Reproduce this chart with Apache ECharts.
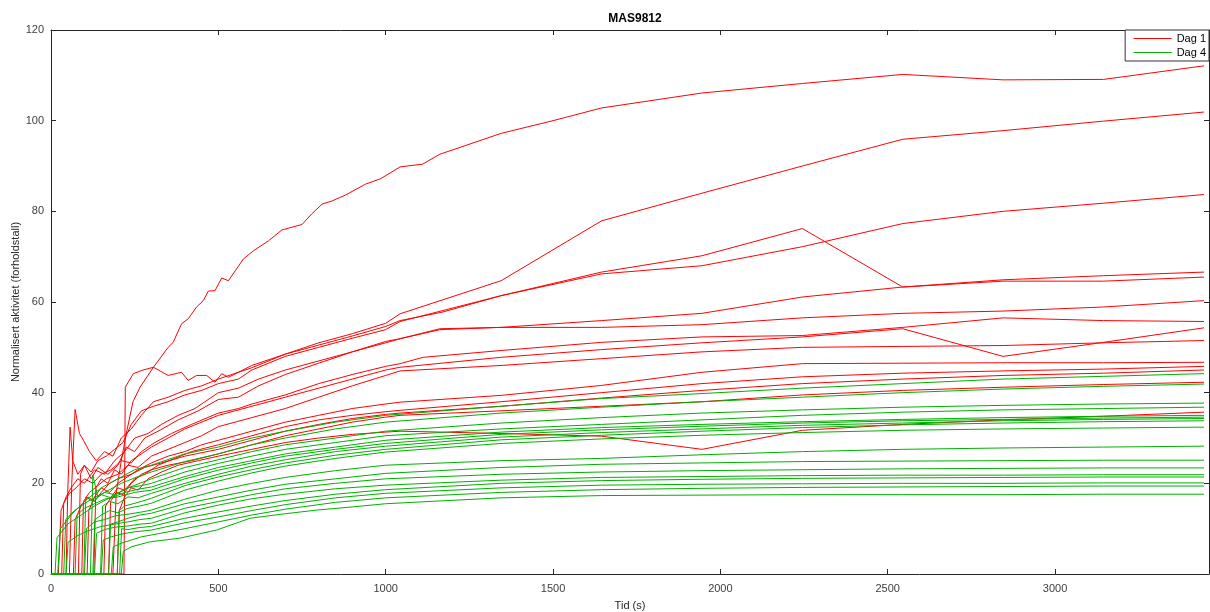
<!DOCTYPE html>
<html>
<head>
<meta charset="utf-8">
<script src="https://cdn.jsdelivr.net/npm/echarts@6/dist/echarts.min.js"></script>
<style>html,body{margin:0;padding:0;background:#fff}#c{width:1210px;height:612px}</style>
</head>
<body>
<div id="c"></div>
<script>
// ---- Data: [time (s), normalised activity] ----
const xTicks = [0, 500, 1000, 1500, 2000, 2500, 3000];
const yTicks = [0, 20, 40, 60, 80, 100, 120];

// Dag 1 (red)
const redA = [[0,0],[185,0],[195,18],[210,25],[225,31],[245,38],[266,41.2],[306,45.6],[350,50],[365,51.1],[390,55.2],[410,56.3],[435,58.9],[455,60.3],[470,62.4],[490,62.5],[510,65.3],[530,64.7],[575,69.5],[605,71.3],[650,73.5],[690,75.9],[750,77.1],[780,79.5],[810,81.6],[840,82.3],[880,83.6],[940,86],[985,87.2],[1043,89.8],[1110,90.4],[1162,92.6],[1345,97.2],[1500,100],[1645,102.8],[1945,106.1],[2245,108.2],[2545,110.2],[2845,109],[3145,109.1],[3445,112.1]];
const redC = [[0,0],[218,0],[222,41.2],[246,44.2],[275,45],[306,45.6],[350,43.8],[390,44.5],[410,42.7],[435,43.8],[465,43.8],[490,42.3],[510,44.2],[530,43.4],[560,44.5],[600,46],[700,48.5],[800,51],[900,53],[1000,55.3],[1043,57.4],[1345,64.7],[1645,77.9],[1945,84],[2245,90],[2545,95.9],[2845,97.8],[3145,99.9],[3445,101.9]];
const redD = [[0,0],[55,0],[62,20],[72,36.3],[85,31],[97,29.5],[115,27],[135,25],[160,27],[185,26],[210,30],[240,32],[270,35],[306,38],[350,39],[400,40.5],[450,41.5],[500,43],[560,44.5],[600,45.5],[700,48.5],[800,50.5],[900,52.5],[1000,54.6],[1043,55.9],[1171,57.8],[1345,61.4],[1645,66.6],[1945,70.2],[2245,76.2],[2545,63.3],[2845,64.6],[3145,64.6],[3445,65.5]];
const redE = [[0,0],[45,0],[50,18],[57,32.4],[65,25],[80,22],[100,24],[120,22.5],[140,25],[165,26],[190,27.5],[215,29],[240,33],[270,36],[306,37],[350,38],[400,39.5],[450,40.5],[500,42],[560,43],[600,45],[700,48],[800,50],[900,52],[1000,53.9],[1043,55.7],[1345,61.4],[1645,66.2],[1945,68],[2245,72.2],[2545,77.3],[2845,80],[3145,81.8],[3445,83.7]];
const redF = [[0,0],[22,0],[30,14],[45,17],[60,19],[80,21],[100,20],[130,23],[160,22],[190,25],[220,27],[250,30],[290,31],[330,33],[380,35],[430,36.5],[500,40],[560,41],[620,43],[700,45],[800,47],[900,49],[1000,51.3],[1043,51.9],[1162,54.1],[1345,54.4],[1645,55.9],[1945,57.5],[2245,61.1],[2545,63.3],[2845,64.9],[3145,65.8],[3445,66.6]];
const redI = [[0,0],[82,0],[88,22],[100,24],[120,21],[140,23.5],[170,22],[200,24],[225,28],[250,27],[280,30],[320,31.5],[380,34],[440,36],[500,38.5],[560,39],[620,41.5],[700,44],[800,46.5],[900,49],[1000,51],[1043,51.9],[1162,53.9],[1345,54.4],[1645,54.4],[1945,55],[2245,56.5],[2545,57.5],[2845,58],[3145,58.9],[3445,60.3]];
const redJ = [[0,0],[32,0],[38,15.6],[55,17.8],[75,19],[100,21],[125,20],[150,22],[180,23],[210,25],[240,24.5],[270,27],[310,29],[360,31],[420,33],[500,35.5],[560,36.5],[600,37.5],[700,39.5],[800,42],[900,44],[1000,45.8],[1043,46.4],[1112,47.8],[1345,49.3],[1645,51.1],[1945,52.3],[2245,52.6],[2545,54.4],[2845,56.5],[3145,55.9],[3445,55.7]];
const redK = [[0,0],[128,0],[134,19],[150,21],[170,20],[190,23],[210,22],[240,25],[270,26.5],[300,28],[350,30],[400,32],[450,33.5],[500,35],[600,37],[700,39],[800,41],[900,43],[1000,45],[1043,45.6],[1345,47.8],[1645,49.5],[1945,51],[2245,52.3],[2545,54.1],[2845,48],[3145,51.1],[3445,54.3]];
const redL = [[0,0],[92,0],[97,16],[115,18],[140,19.5],[165,21],[200,22],[230,24],[260,23.5],[300,26],[350,27.5],[400,29],[450,30.5],[500,32.5],[600,34.5],[700,36.5],[800,39],[900,41.5],[1000,43.8],[1043,44.8],[1345,46],[1645,47.5],[1945,49],[2245,50],[2545,50.2],[2845,50.4],[3145,51],[3445,51.5]];
const redM = [[0,0],[108,0],[113,14],[130,17],[150,19],[175,18],[200,20],[230,21.5],[260,23],[300,24.5],[350,26],[400,27],[450,28.5],[500,29.5],[600,31.5],[700,33.5],[800,35],[900,36.5],[1000,37.5],[1043,37.9],[1345,39.4],[1645,41.6],[1945,44.5],[2245,46.4],[2545,46.5],[2845,46.6],[3145,46.6],[3445,46.7]];
const redN = [[0,0],[158,0],[163,15],[180,17],[200,19],[220,18.5],[250,21],[280,22],[320,24],[370,25.5],[420,27],[500,28.5],[600,30.5],[700,32.5],[800,34],[900,35],[1000,35.8],[1043,36.1],[1345,38],[1645,40],[1945,42],[2245,43.5],[2545,44.3],[2845,44.8],[3145,45.2],[3445,45.8]];
const redO = [[0,0],[67,0],[72,12],[90,15],[110,17],[130,16],[150,18],[175,20],[200,21],[240,22],[280,23.5],[330,24.5],[400,26],[500,27.5],[600,29.5],[700,31.5],[800,33],[900,34.3],[1000,35.2],[1043,35.5],[1345,37],[1645,38.8],[1945,40.5],[2245,42],[2545,43],[2845,43.8],[3145,44.3],[3445,45]];
const redP = [[0,0],[172,0],[178,16],[195,18],[215,17.5],[240,20],[270,22],[300,23],[350,24],[420,25],[500,26.5],[600,28.5],[700,30.5],[800,32],[900,33.5],[1000,34.6],[1043,35],[1345,36],[1645,37],[1945,38],[2245,39.5],[2545,40.5],[2845,41.2],[3145,41.8],[3445,42.3]];
const redQ = [[0,0],[198,0],[204,14],[220,17],[240,19],[260,18.5],[290,21],[330,22.5],[380,24],[440,25],[500,26],[600,27.5],[700,29],[800,30],[900,30.8],[1000,31.3],[1043,31.5],[1345,31],[1645,30.4],[1945,27.5],[2245,31.7],[2545,33],[2845,34],[3145,34.8],[3445,35.7]];

// Dag 4 (green)
const grn1 = [[0,0],[20,0],[28,10],[60,13],[100,16],[150,19],[200,21],[250,23],[300,24],[400,26.5],[500,28],[600,30],[700,31.5],[850,33.5],[1000,35],[1345,37],[1645,38.7],[1945,39.8],[2245,41],[2545,42],[2845,43],[3145,43.6],[3445,44.2]];
const grn2 = [[0,0],[38,0],[44,12],[70,14],[110,16],[160,18],[210,20],[260,21.5],[300,22.5],[400,24.8],[500,26.5],[600,28.5],[700,30],[850,32],[1000,33.5],[1345,35.5],[1645,36.8],[1945,38],[2245,39],[2545,40],[2845,40.8],[3145,41.4],[3445,41.9]];
const grn3 = [[0,0],[12,0],[18,8],[50,11],[90,13],[130,15],[180,17],[230,19],[300,21],[400,23.5],[500,25.2],[600,27],[700,28.5],[850,30],[1000,31.5],[1345,33.3],[1645,34.5],[1945,35.5],[2245,36.2],[2545,36.8],[2845,37.2],[3145,37.5],[3445,37.7]];
const grn4 = [[0,0],[118,0],[125,21.8],[140,17],[160,18],[190,17.5],[230,19],[270,19.5],[300,20],[400,22.5],[500,24.4],[600,26],[700,27.5],[850,29],[1000,30.5],[1345,32],[1645,33],[1945,34],[2245,35],[2545,35.7],[2845,36.2],[3145,36.5],[3445,36.8]];
const grn5 = [[0,0],[98,0],[104,17],[125,16],[150,17.5],[180,16.8],[220,18],[260,18.7],[300,19.2],[400,21.5],[500,23.5],[600,25],[700,26.5],[850,28],[1000,29.5],[1345,31.3],[1645,32.3],[1945,33],[2245,33.6],[2545,34.1],[2845,34.5],[3145,34.8],[3445,35]];
const grn6 = [[0,0],[72,0],[78,13],[100,14.5],[130,15.5],[160,16.5],[200,17],[250,18],[300,18.5],[400,21],[500,22.9],[600,24.5],[700,26],[850,27.5],[1000,28.8],[1345,30.8],[1645,31.8],[1945,32.6],[2245,33.3],[2545,33.8],[2845,34.1],[3145,34.4],[3445,34.6]];
const grn7 = [[0,0],[148,0],[154,15],[175,16],[200,15.5],[230,17],[260,16.8],[300,17.8],[400,20],[500,22],[600,23.8],[700,25.2],[850,27],[1000,28.2],[1345,30.2],[1645,31.2],[1945,32],[2245,32.8],[2545,33.3],[2845,33.8],[3145,34.1],[3445,34.3]];
const grn8 = [[0,0],[198,0],[204,14],[220,15],[245,15.5],[270,16],[300,16.7],[400,19.5],[500,21.4],[600,23],[700,24.5],[850,26.2],[1000,27.5],[1345,29.6],[1645,30.6],[1945,31.5],[2245,32.3],[2545,32.9],[2845,33.3],[3145,33.6],[3445,33.8]];
const grn9 = [[0,0],[125,0],[131,12],[150,13],[175,14],[200,13.5],[230,14.5],[265,15],[300,15.6],[400,18.5],[500,20.5],[600,22.3],[700,23.8],[850,25.5],[1000,26.9],[1345,28.8],[1645,29.8],[1945,30.6],[2245,31.2],[2545,31.7],[2845,32],[3145,32.2],[3445,32.4]];
const grn10 = [[0,0],[100,0],[106,10],[130,11.5],[160,12],[190,12.8],[230,13.2],[265,13.6],[300,14.1],[400,16.5],[500,18.5],[600,20],[700,21.3],[850,22.8],[1000,24],[1345,25],[1645,25.5],[1945,26.3],[2245,27],[2545,27.5],[2845,27.8],[3145,28],[3445,28.2]];
const grn11 = [[0,0],[172,0],[178,11],[200,11.5],[230,12.3],[265,13],[300,13.4],[400,15.5],[500,17],[600,18.5],[700,19.8],[850,21],[1000,22.2],[1345,23.5],[1645,24.2],[1945,24.5],[2245,24.8],[2545,24.9],[2845,25],[3145,25.1],[3445,25.1]];
const grn12 = [[0,0],[45,0],[51,7],[80,8.5],[110,9.5],[150,10.5],[190,11],[230,11.5],[265,12],[300,12.3],[400,14.5],[500,16],[600,17.5],[700,18.8],[850,20],[1000,21],[1345,22],[1645,22.5],[1945,22.8],[2245,23],[2545,23.2],[2845,23.3],[3145,23.4],[3445,23.4]];
const grn13 = [[0,0],[130,0],[136,9],[160,9.8],[190,10.3],[230,10.6],[265,11],[300,11.2],[400,13.5],[500,15.2],[600,16.6],[700,17.6],[850,18.8],[1000,19.6],[1345,20.7],[1645,21.3],[1945,21.5],[2245,21.7],[2545,21.8],[2845,21.8],[3145,21.9],[3445,21.9]];
const grn14 = [[0,0],[205,0],[211,10],[230,9.8],[260,10.2],[300,10.5],[400,12.3],[500,13.7],[600,15],[700,16.2],[850,17.6],[1000,18.6],[1345,20],[1645,20.6],[1945,20.9],[2245,21.1],[2545,21.2],[2845,21.3],[3145,21.4],[3445,21.4]];
const grn15 = [[0,0],[150,0],[156,7.5],[180,8.2],[210,8.8],[250,9.3],[300,9.7],[400,11.3],[500,12.6],[600,14],[700,15.3],[850,16.8],[1000,17.8],[1345,19],[1645,19.6],[1945,19.8],[2245,19.9],[2545,20],[2845,20],[3145,20.1],[3445,20.1]];
const grn16 = [[0,0],[180,0],[186,6],[210,6.8],[240,7.5],[270,8.2],[300,8.6],[400,10],[500,11.5],[600,13],[700,14.3],[850,15.8],[1000,16.8],[1345,18],[1645,18.6],[1945,18.9],[2245,19.1],[2545,19.2],[2845,19.3],[3145,19.4],[3445,19.4]];
const grn17 = [[0,0],[210,0],[216,5],[240,6],[270,6.6],[296,7.1],[385,7.9],[495,9.7],[595,12.3],[700,13.3],[794,14.1],[900,14.8],[1000,15.5],[1345,16.8],[1645,17.3],[1945,17.4],[2245,17.5],[2545,17.5],[2845,17.5],[3145,17.6],[3445,17.6]];

const dag1Lines = [redA, redC, redD, redE, redF, redI, redJ, redK, redL, redM, redN, redO, redP, redQ];
const dag4Lines = [grn1, grn2, grn3, grn4, grn5, grn6, grn7, grn8, grn9, grn10, grn11, grn12, grn13, grn14, grn15, grn16, grn17];

const RED = '#ff0000', GREEN = '#00b000';
const FONT = '"Liberation Sans", Arial, Helvetica, sans-serif';
const AX = '#262626';

function mk(name, color, data) {
  return { type: 'line', name, data, symbol: 'none', showSymbol: false, smooth: false,
    lineStyle: { color, width: 1 }, itemStyle: { color }, animation: false, z: 2 };
}
const series = [];
dag1Lines.forEach(d => series.push(mk('Dag 1', RED, d)));
dag4Lines.forEach(d => series.push(mk('Dag 4', GREEN, d)));

const chart = echarts.init(document.getElementById('c'), null, { renderer: 'canvas' });
const axisCommon = {
  axisLine: { show: true, onZero: false, lineStyle: { color: AX, width: 1 } },
  axisTick: { show: true, inside: true, length: 5, lineStyle: { color: AX } },
  splitLine: { show: false }
};
chart.setOption({
  animation: false,
  backgroundColor: '#fff',
  title: { text: 'MAS9812', left: 630, top: 8, textAlign: 'center',
    textStyle: { fontFamily: FONT, fontSize: 12, fontWeight: 'bold', color: '#000' } },
  legend: {
    data: ['Dag 1', 'Dag 4'], orient: 'vertical', right: 1, top: 30,
    itemWidth: 38, itemHeight: 10, itemGap: 3, padding: [3, 3, 3, 8],
    borderColor: '#333', borderWidth: 1, backgroundColor: '#fff',
    itemStyle: { opacity: 0 },
    lineStyle: { width: 1 },
    textStyle: { fontFamily: FONT, fontSize: 11, color: '#000' }
  },
  grid: { left: 51, right: 1, top: 30, bottom: 38, containLabel: false, outerBoundsMode: 'none' },
  xAxis: [
    Object.assign({ type: 'value', min: 0, max: 3460, interval: 500, position: 'bottom',
      name: 'Tid (s)', nameLocation: 'middle', nameGap: 26, nameMoveOverlap: false,
      nameTextStyle: { fontFamily: FONT, fontSize: 11, color: '#262626' },
      axisLabel: { fontFamily: FONT, fontSize: 11, color: '#404040', margin: 9, showMaxLabel: false,
        formatter: v => xTicks.includes(v) ? String(v) : '' } }, axisCommon),
    Object.assign({ type: 'value', min: 0, max: 3460, interval: 500, position: 'top',
      axisLabel: { show: false } }, axisCommon)
  ],
  yAxis: [
    Object.assign({ type: 'value', min: 0, max: 120, interval: 20, position: 'left',
      name: 'Normalisert aktivitet (forholdstall)', nameLocation: 'middle', nameGap: 30, nameMoveOverlap: false,
      nameTextStyle: { fontFamily: FONT, fontSize: 11, color: '#262626' },
      axisLabel: { fontFamily: FONT, fontSize: 11, color: '#404040', margin: 7,
        formatter: v => yTicks.includes(v) ? String(v) : '' } }, axisCommon),
    Object.assign({ type: 'value', min: 0, max: 120, interval: 20, position: 'right',
      axisLabel: { show: false } }, axisCommon)
  ],
  series
});
</script>
</body>
</html>
